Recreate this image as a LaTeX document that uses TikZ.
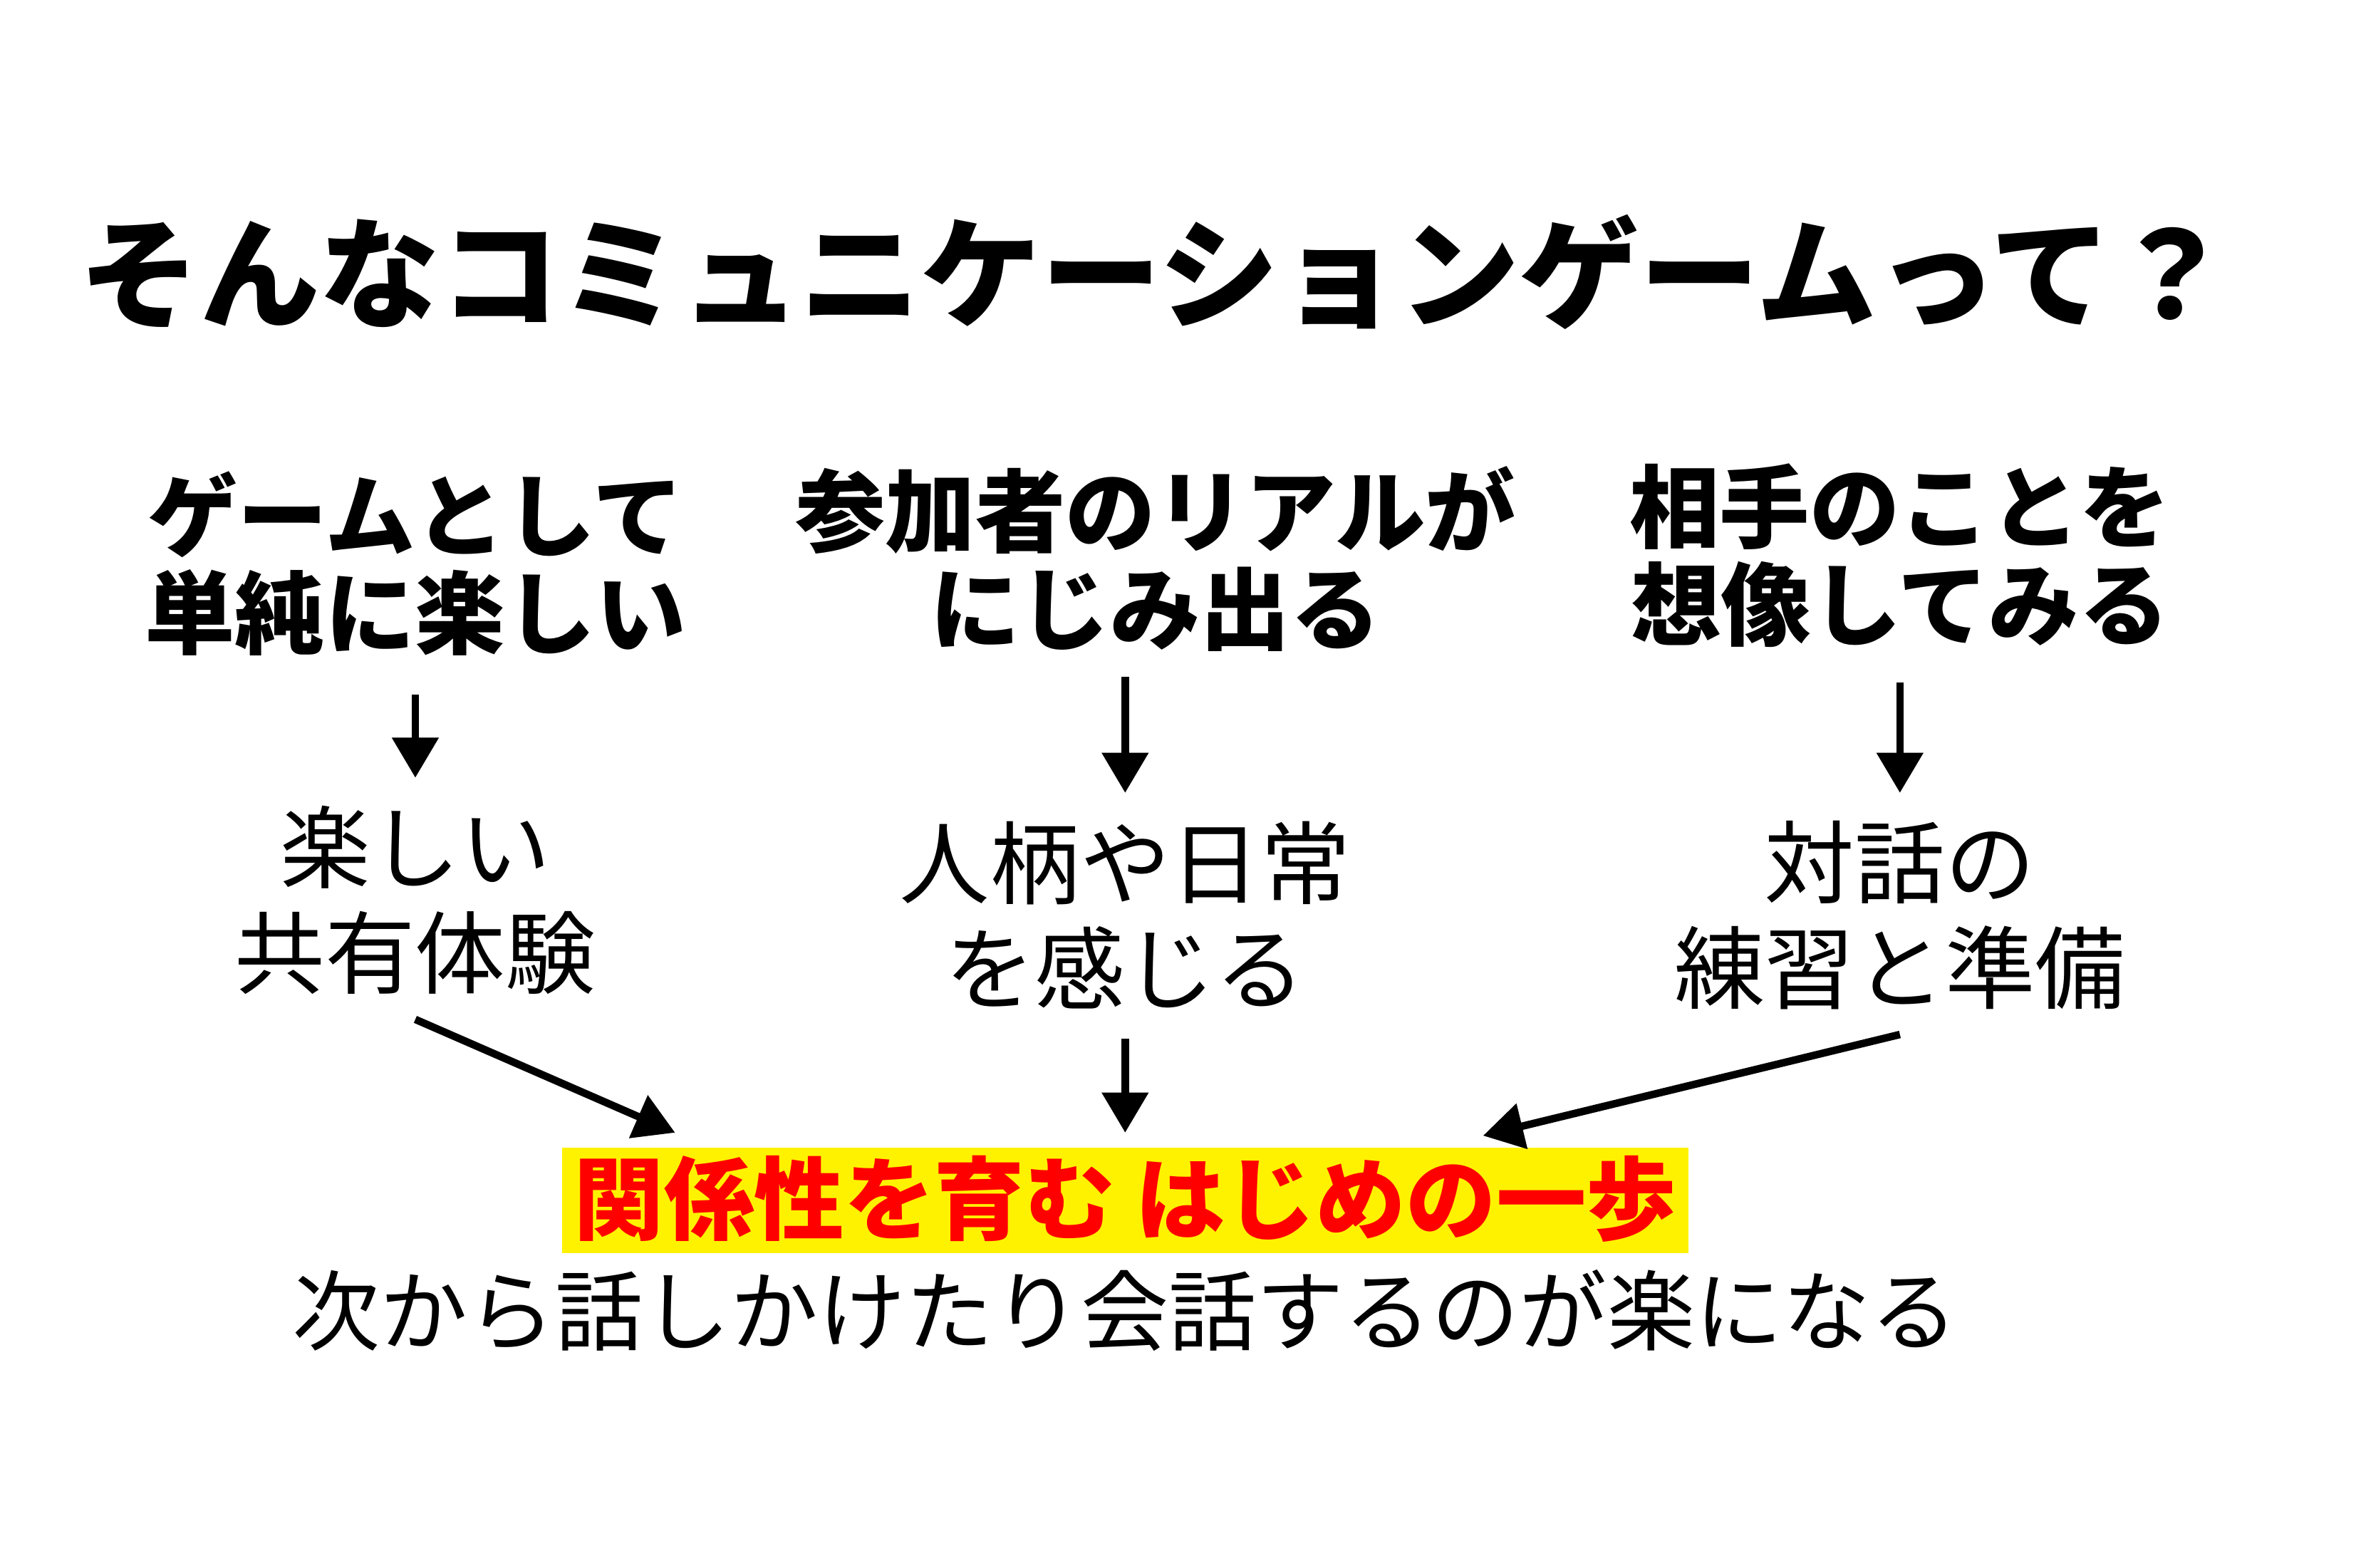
\documentclass[tikz,border=0pt]{standalone}
\usepackage{fontspec}
\usetikzlibrary{arrows.meta}
\newfontfamily\cjkh{Noto Sans CJK JP Black}
\newfontfamily\cjkr{Noto Sans CJK JP}
\begin{document}
\begin{tikzpicture}[x=0.0212cm,y=-0.0212cm,
  title/.style={font=\cjkh\fontsize{48}{52}\selectfont},
  head/.style={font=\cjkh\fontsize{36}{39}\selectfont,align=center},
  sub/.style={font=\cjkr\fontsize{36}{42}\selectfont,align=center},
  arr/.style={line width=3pt,-{Triangle[length=16pt,width=18pt]}}]
\useasboundingbox[fill=white] (0,0) rectangle (1560,1038);
\node[title] (t) at (765,180) {そんなコミュニケーションゲームって？};
\node[head] (h1) at (275,373) {ゲームとして\\単純に楽しい};
\node[head] (h2) at (765,370) {参加者のリアルが\\にじみ出る};
\node[head] (h3) at (1258,368) {相手のことを\\想像してみる};
\node[sub] (s1) at (275,596) {楽しい\\共有体験};
\node[sub] (s2) at (745,606) {人柄や日常\\を感じる};
\node[sub] (s3) at (1258,606) {対話の\\練習と準備};
\coordinate (a1s) at (275,460); \coordinate (a1e) at (275,515);
\coordinate (a2s) at (745,448); \coordinate (a2e) at (745,525);
\coordinate (a3s) at (1258,452); \coordinate (a3e) at (1258,525);
\draw[arr] (a1s) -- (a1e);
\draw[arr] (a2s) -- (a2e);
\draw[arr] (a3s) -- (a3e);
\fill[yellow] (372,760) rectangle (1118,830);
\node[font=\cjkh\fontsize{36}{40}\selectfont,text=red] (r) at (745,794) {関係性を育む はじめの一歩};
\node[sub,font=\cjkr\fontsize{35}{40}\selectfont] (b) at (745,868) {次から話しかけたり会話するのが楽になる};
\coordinate (b1s) at (275,675); \coordinate (b1e) at (447,750);
\coordinate (b2s) at (745,688); \coordinate (b2e) at (745,750);
\coordinate (b3s) at (1258,685); \coordinate (b3e) at (982,752);
\draw[arr] (b1s) -- (b1e);
\draw[arr] (b2s) -- (b2e);
\draw[arr] (b3s) -- (b3e);
\end{tikzpicture}
\end{document}
